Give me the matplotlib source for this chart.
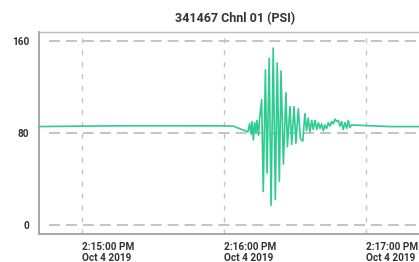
import pandas as pd
import matplotlib
matplotlib.use('Agg')
import matplotlib.pyplot as plt

plt.rcParams['font.family'] = ['Roboto', 'DejaVu Sans']
plt.rcParams['lines.scale_dashes'] = False

# seconds relative to 2:16:00 PM, and pressure readings (PSI)
seconds = [-78.2, -60, -40, -20, 0, 3.9, 10.1, 10.8, 11.4, 11.8, 12.4, 12.9, 13.5, 13.9,
           14.6, 15.0, 15.9, 16.6, 17.5, 18.2, 19.1, 19.9, 20.8, 21.7, 22.5, 23.4, 24.1,
           25.1, 26.2, 26.8, 27.9, 28.6, 29.6, 30.4, 31.4, 32.3, 33.3, 34.2, 34.9, 35.6,
           36.3, 37.1, 37.7, 38.5, 39.2, 39.9, 40.6, 41.3, 42.0, 42.7, 43.4, 44.1, 44.8,
           45.5, 46.2, 46.9, 47.6, 48.3, 49.0, 49.7, 50.4, 51.1, 51.9, 52.5, 53.2, 54.0,
           70, 90]
psi = [85.6, 86.0, 86.3, 86.3, 86.2, 86.0, 81, 88, 79, 90, 74, 89, 80, 91,
       78, 92, 109, 29, 135, 45, 145, 17, 154, 22, 141, 38, 134,
       53, 115, 68, 103, 70, 103, 71, 101, 75, 73, 97, 82, 93,
       81, 91, 83, 91, 83, 89, 84, 88, 82, 87, 84, 89, 86,
       90, 88, 92, 90, 91, 86, 90, 83, 89, 84, 91, 85, 87,
       85.6, 85.6]

tick_seconds = [-60, 0, 60]
tick_labels = ['2:15:00 PM\nOct 4 2019', '2:16:00 PM\nOct 4 2019', '2:17:00 PM\nOct 4 2019']
y_ticks = [0, 80, 160]

base = pd.Timestamp('2019-10-04 14:16:00')
times = base + pd.to_timedelta(seconds, unit='s')
tick_times = base + pd.to_timedelta(tick_seconds, unit='s')

fig = plt.figure(figsize=(4.19, 2.62), dpi=100)
ax = fig.add_axes([39 / 419, 28 / 262, 392 / 419, 202 / 262])

# dashed grid, horizontal lines start a bit right of the y axis
grid_color = '#c4c4c4'
for y in y_ticks:
    ax.axhline(y, xmin=10 / 392, color=grid_color, lw=1.4, ls=(0, (7.9, 4.3)), zorder=1)
for t in tick_times:
    ax.axvline(t, ymax=0.985, color=grid_color, lw=1.0, ls=(0, (3.6, 5.0)), zorder=1)

ax.plot(times, psi, color='#2fcc92', lw=1.2, zorder=3)

ax.set_xlim(base - pd.Timedelta(seconds=78.2), base + pd.Timedelta(seconds=87.5))
ax.set_ylim(-8, 168)

ax.set_xticks(tick_times)
ax.set_xticklabels(tick_labels, ha='left', fontsize=7.2, color='#333333',
                   fontweight='bold', linespacing=1.05)
ax.set_yticks(y_ticks)
ax.set_yticklabels([str(v) for v in y_ticks], fontsize=7.2, color='#333333',
                   fontweight='bold')
ax.tick_params(length=0)
ax.tick_params(axis='x', pad=6)
ax.tick_params(axis='y', pad=7)

for side in ['left', 'bottom']:
    ax.spines[side].set_color('#a0a0a0')
    ax.spines[side].set_linewidth(1.3)
ax.spines['top'].set_color('#bdbdbd')
ax.spines['top'].set_linewidth(1.0)
ax.spines['right'].set_visible(False)

fig.text(235 / 419, 1 - 19 / 262, '341467 Chnl 01 (PSI)', ha='center', va='center',
         fontsize=9, fontweight='bold', color='#333333')

fig.savefig('out.png', dpi=100)
